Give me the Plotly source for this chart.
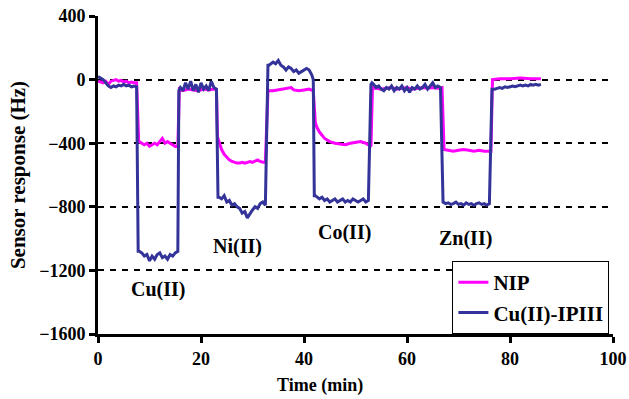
import plotly.graph_objects as go

# Time (min) and responses (Hz)
t_ip = [0, 0.5, 1, 1.5, 2, 2.5, 3, 3.5, 4, 4.5, 5, 5.5, 6, 6.5, 7, 7.5,
        7.8, 8, 8.5, 9, 9.5, 10, 10.5, 11, 11.5, 12, 12.5, 13, 13.5, 14, 14.5, 15, 15.5,
        15.7, 16, 16.5, 17, 17.5, 18, 18.5, 19, 19.5, 20, 20.5, 21, 21.5, 22, 22.5, 23,
        23.3, 23.5, 24, 24.5, 25, 25.5, 26, 26.5, 27, 27.5, 28, 28.5, 29, 29.5, 30, 30.5, 31, 31.5, 32, 32.5,
        33, 33.2, 33.5, 34, 34.5, 35, 35.5, 36, 36.5, 37, 37.5, 38, 38.5, 39, 39.5, 40, 40.5, 41, 41.5, 41.8,
        42, 42.2, 42.5, 43, 43.5, 44, 44.5, 45, 45.5, 46, 46.5, 47, 47.5, 48, 48.5, 49, 49.5, 50, 50.5, 51, 51.5, 52, 52.5,
        53, 53.2, 53.5, 54, 54.5, 55, 55.5, 56, 56.5, 57, 57.5, 58, 58.5, 59, 59.5, 60, 60.5, 61, 61.5, 62, 62.5,
        63, 63.5, 64, 64.5, 65, 65.5, 66, 66.5,
        67, 67.5, 68, 68.5, 69, 69.5, 70, 70.5, 71, 71.5, 72, 72.5, 73, 73.5, 74, 74.5, 75, 75.5, 76,
        76.5, 77, 77.5, 78, 78.5, 79, 79.5, 80, 80.5, 81, 81.5, 82, 82.5, 83, 83.5, 84, 84.5, 85, 85.5, 86]
v_ip = [20, 10, 0, -20, -40, -50, -40, -45, -35, -40, -30, -40, -35, -45, -40, -45,
        -1080, -1080, -1090, -1110, -1100, -1140, -1110, -1130, -1100, -1090, -1120, -1110, -1130, -1100, -1110, -1090, -1080,
        -70, -50, -70, -20, -60, -10, -70, -30, -80, -20, -60, -40, -70, -10, -50, -60,
        -740, -740, -750, -730, -770, -760, -790, -780, -800, -810, -840, -830, -870, -840, -820, -800, -810, -780, -770, -790,
        90, 90, 100, 110, 100, 120, 90, 80, 60, 80, 70, 50, 60, 40, 50, 60, 70, 60, 30, 0,
        -730, -730, -740, -750, -740, -760, -750, -770, -760, -750, -770, -760, -750, -770, -760, -770, -750, -760, -770, -760, -750, -770, -760,
        -30, -20, -30, -50, -40, -60, -70, -50, -60, -40, -70, -50, -60, -40, -70, -50, -80, -50, -60, -40, -60,
        -50, -30, -60, -40, -20, -50, -40, -50,
        -770, -780, -775, -785, -780, -770, -785, -780, -790, -775, -785, -780, -790, -780, -775, -785, -780, -790, -780,
        -60, -60, -55, -50, -55, -45, -50, -45, -40, -45, -40, -35, -40, -35, -40, -30, -35, -30, -35, -30]

t_nip = [0, 0.5, 1, 1.5, 2, 2.5, 3, 3.5, 4, 4.5, 5, 5.5, 6, 6.5, 7, 7.5,
         7.9, 8, 8.5, 9, 9.5, 10, 10.5, 11, 11.5, 12, 12.5, 13, 13.5, 14, 14.5, 15, 15.5,
         15.8, 16.5, 17.5, 18.5, 19.5, 20.5, 21.5, 22.5, 23,
         23.2, 23.5, 24, 24.5, 25, 25.5, 26, 26.5, 27, 27.5, 28, 28.5, 29, 29.5, 30, 30.5, 31, 31.5, 32, 32.5,
         33, 34, 35, 36, 37, 37.5, 38, 39, 40, 41, 41.8,
         42.2, 42.5, 43, 43.5, 44, 45, 46, 47, 48, 49, 50, 51, 52, 53,
         53.3, 54, 55, 56, 57, 58, 59, 60, 61, 62, 63, 64, 65, 66, 66.8,
         67.2, 68, 69, 70, 71, 72, 73, 74, 75, 76, 76.3,
         76.6, 78, 80, 82, 84, 86]
v_nip = [-10, -15, -20, -10, -30, -10, -5, 0, -10, -5, -15, -10, -20, -15, -20, -20,
         -390, -390, -400, -410, -400, -420, -410, -400, -410, -390, -370, -400, -390, -400, -410, -420, -420,
         -60, -70, -60, -65, -70, -60, -65, -60, -65,
         -360, -390, -440, -470, -490, -505, -515, -520, -525, -525, -520, -525, -520, -515, -520, -510, -505, -515, -520, -520,
         -70, -70, -65, -60, -55, -50, -65, -70, -65, -60, -70,
         -270, -300, -330, -350, -370, -390, -400, -405, -410, -400, -395, -390, -400, -420,
         -50, -55, -60, -55, -50, -60, -55, -50, -60, -55, -50, -55, -50, -55, -50,
         -440, -445, -450, -445, -440, -445, -450, -445, -450, -450, -450,
         0, 5, 5, 10, 5, 5]

ion_labels = ["Cu(II)", "Ni(II)", "Co(II)", "Zn(II)"]
ion_x = [11.7, 27.1, 47.8, 71.3]
ion_y = [-1321, -1050, -962, -1000]

y_ticks = [400, 0, -400, -800, -1200, -1600]
x_ticks = [0, 20, 40, 60, 80, 100]

FONT = "Liberation Serif"

fig = go.Figure()
fig.add_trace(go.Scatter(x=t_nip, y=v_nip, mode="lines", name="NIP",
                         line=dict(color="#FF00FF", width=3)))
fig.add_trace(go.Scatter(x=t_ip, y=v_ip, mode="lines", name="Cu(II)-IPIII",
                         line=dict(color="#333399", width=3)))

for lab, xx, yy in zip(ion_labels, ion_x, ion_y):
    fig.add_annotation(x=xx, y=yy, text=lab, showarrow=False,
                       font=dict(family=FONT, size=20, color="black", weight="bold"))

# x-axis title (offset left of the plot centre, as in the reference)
fig.add_annotation(x=0.431, y=-0.163, xref="paper", yref="paper", text="Time (min)",
                   showarrow=False, xanchor="center", yanchor="middle",
                   font=dict(family=FONT, size=18, color="black", weight="bold"))

fig.update_layout(
    width=629, height=399,
    margin=dict(l=98, r=16, t=16, b=65, autoexpand=False),
    paper_bgcolor="white", plot_bgcolor="white",
    font=dict(family=FONT, color="black"),
    legend=dict(x=0.993, y=0.0, xanchor="right", yanchor="bottom",
                bordercolor="black", borderwidth=1, bgcolor="white",
                font=dict(family=FONT, size=21, color="black", weight="bold"),
                tracegroupgap=0),
    showlegend=True,
)
fig.update_xaxes(range=[0, 100], tickvals=x_ticks, showgrid=False, zeroline=False,
                 showline=True, linecolor="black", linewidth=3,
                 ticks="outside", ticklen=6, tickwidth=3, tickcolor="black",
                 tickfont=dict(family=FONT, size=18, color="black", weight="bold"))
fig.update_yaxes(range=[-1600, 400], tickvals=y_ticks, showgrid=True, gridcolor="black",
                 griddash="6px,6px", gridwidth=2, zeroline=False,
                 showline=True, linecolor="black", linewidth=3,
                 ticks="outside", ticklen=6, tickwidth=3, tickcolor="black",
                 tickfont=dict(family=FONT, size=18, color="black", weight="bold"),
                 title=dict(text="Sensor response (Hz)", standoff=8,
                            font=dict(family=FONT, size=21, color="black", weight="bold")))

fig.write_html("out.html", config={"displayModeBar": False},
               post_script="document.body.style.margin='0';document.body.style.overflow='hidden';")
